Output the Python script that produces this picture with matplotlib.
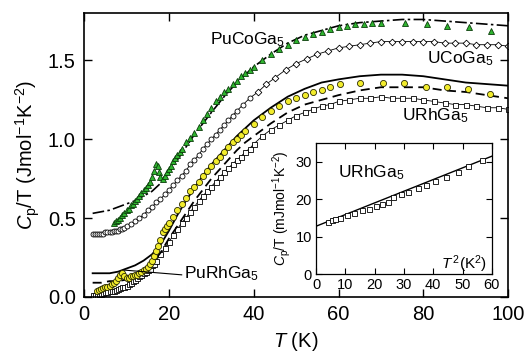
import matplotlib
matplotlib.use("Agg")
import matplotlib.pyplot as plt
import numpy as np

plt.rcParams["font.family"] = ["Liberation Sans", "DejaVu Sans"]
plt.rcParams["mathtext.fontset"] = "custom"
plt.rcParams["mathtext.rm"] = "Liberation Sans"
plt.rcParams["mathtext.it"] = "Liberation Sans:italic"

# PuCoGa5 (green triangles)
pucoga_t = [7, 7.5, 8, 8.5, 9, 9.5, 10, 10.5, 11, 11.5, 12, 12.5, 13, 13.5, 14, 14.5,
            15, 15.5, 16, 16.5, 17, 17.3, 17.6, 18, 18.5, 19, 19.5, 20, 20.5, 21, 21.5,
            22, 22.5, 23, 24, 25, 26, 27, 28, 29, 30, 31, 32, 33, 34, 35, 36, 37, 38, 39,
            40, 42, 44, 46, 48, 50, 52, 54, 56, 58, 60, 62, 64, 66, 68, 70,
            75.7, 80.9, 85.6, 90.8, 96]
pucoga_c = [0.47, 0.48, 0.49, 0.50, 0.52, 0.53, 0.55, 0.56, 0.58, 0.59, 0.61, 0.62, 0.64,
            0.66, 0.68, 0.69, 0.71, 0.73, 0.76, 0.80, 0.84, 0.83, 0.79, 0.76, 0.75, 0.77,
            0.79, 0.81, 0.83, 0.86, 0.88, 0.90, 0.92, 0.94, 0.98, 1.01, 1.04, 1.08, 1.12,
            1.16, 1.20, 1.24, 1.27, 1.30, 1.32, 1.35, 1.37, 1.40, 1.42, 1.44, 1.46, 1.50,
            1.54, 1.57, 1.60, 1.63, 1.65, 1.67, 1.68, 1.70, 1.71, 1.72, 1.73, 1.73, 1.74,
            1.74, 1.74, 1.73, 1.72, 1.71, 1.69]

# dash-dot curve
dashdot_t = [2, 4, 6, 8, 10, 12, 14, 16, 18, 20, 22, 24, 26, 28, 30, 33, 36, 40, 44, 48,
             52, 56, 60, 65, 70, 75, 80, 85, 90, 95, 100]
dashdot_c = [0.53, 0.54, 0.55, 0.57, 0.59, 0.61, 0.64, 0.67, 0.72, 0.79, 0.87, 0.95, 1.03,
             1.10, 1.17, 1.27, 1.36, 1.46, 1.54, 1.61, 1.66, 1.69, 1.72, 1.74, 1.75, 1.76,
             1.76, 1.75, 1.74, 1.73, 1.72]

# UCoGa5 (open circles / diamonds)
ucoga_t = [2, 2.5, 3, 3.5, 4, 4.5, 5, 5.5, 6, 6.5, 7, 7.5, 8, 8.5, 9, 9.5, 10, 11, 12, 13,
           14, 15, 16, 17, 18, 19, 20, 21, 22, 23, 24, 25, 26, 27, 28, 29, 30, 31, 32, 33,
           34, 35, 36, 37.5, 39, 41, 43, 45, 47.5, 50, 52.5, 55, 57.5, 60, 62.5, 65, 67.5,
           70, 72.5, 75, 77.5, 80, 82.5, 85, 87.5, 90, 92.5, 95, 97.5, 100]
ucoga_c = [0.40, 0.40, 0.40, 0.40, 0.40, 0.40, 0.41, 0.41, 0.41, 0.41, 0.42, 0.42, 0.42,
           0.43, 0.43, 0.44, 0.45, 0.46, 0.48, 0.50, 0.52, 0.55, 0.57, 0.60, 0.62, 0.65,
           0.68, 0.71, 0.74, 0.77, 0.80, 0.84, 0.87, 0.90, 0.94, 0.97, 1.00, 1.03, 1.06,
           1.09, 1.12, 1.15, 1.18, 1.22, 1.26, 1.30, 1.35, 1.39, 1.44, 1.48, 1.51, 1.54,
           1.56, 1.58, 1.59, 1.60, 1.61, 1.62, 1.62, 1.62, 1.62, 1.62, 1.62, 1.61, 1.61,
           1.61, 1.60, 1.60, 1.60, 1.59]

# solid curve
solid_t = [2, 4, 6, 8, 10, 12, 14, 16, 18, 20, 22, 24, 26, 28, 30, 32, 34, 36, 38, 40, 44,
           48, 52, 56, 60, 65, 70, 75, 80, 85, 90, 95, 100]
solid_c = [0.15, 0.15, 0.15, 0.16, 0.18, 0.20, 0.23, 0.27, 0.33, 0.42, 0.52, 0.61, 0.69,
           0.77, 0.84, 0.90, 0.96, 1.02, 1.07, 1.12, 1.20, 1.27, 1.32, 1.36, 1.38, 1.40,
           1.41, 1.41, 1.40, 1.38, 1.36, 1.35, 1.34]

# PuRhGa5 (yellow circles)
purhga_t = [3, 3.5, 4, 4.5, 5, 5.5, 6, 6.5, 7, 7.5, 8, 8.5, 9, 9.5, 10, 10.5, 11, 11.5, 12,
            12.5, 13, 13.5, 14, 14.5, 15, 15.5, 16, 16.5, 17, 17.5, 18, 18.5, 19, 19.5, 20,
            21, 22, 23, 24, 25, 26, 27, 28, 29, 30, 31, 32, 33, 34, 35, 36, 37, 38, 40, 42,
            44, 46, 48, 50, 52, 54, 56, 58, 60.4, 65, 70.5, 75.5, 80.7, 85.6, 90.6, 95.8]
purhga_c = [0.04, 0.045, 0.05, 0.055, 0.06, 0.065, 0.07, 0.08, 0.09, 0.10, 0.12, 0.14,
            0.15, 0.13, 0.12, 0.12, 0.13, 0.13, 0.14, 0.14, 0.15, 0.16, 0.17, 0.18, 0.19,
            0.21, 0.23, 0.26, 0.29, 0.32, 0.36, 0.41, 0.43, 0.45, 0.47, 0.51, 0.55, 0.59,
            0.63, 0.67, 0.70, 0.73, 0.77, 0.80, 0.83, 0.86, 0.89, 0.92, 0.95, 0.98, 1.00,
            1.03, 1.05, 1.10, 1.14, 1.18, 1.21, 1.24, 1.26, 1.28, 1.30, 1.31, 1.33, 1.35,
            1.36, 1.36, 1.36, 1.33, 1.33, 1.32, 1.29]

# dashed curve
dashed_t = [2, 4, 6, 8, 10, 12, 14, 16, 18, 20, 22, 24, 26, 28, 30, 32, 34, 36, 38, 40, 44,
            48, 52, 56, 60, 65, 70, 75, 80, 85, 90, 95, 100]
dashed_c = [0.09, 0.09, 0.10, 0.10, 0.11, 0.13, 0.16, 0.21, 0.28, 0.37, 0.45, 0.53, 0.61,
            0.68, 0.75, 0.81, 0.87, 0.93, 0.98, 1.02, 1.10, 1.17, 1.22, 1.25, 1.28, 1.31,
            1.33, 1.33, 1.33, 1.31, 1.30, 1.28, 1.26]

# URhGa5 (open squares)
urhga_t = [2, 2.5, 3, 3.5, 4, 4.5, 5, 5.5, 6, 6.5, 7, 7.5, 8, 8.5, 9, 9.5, 10, 10.5, 11,
           11.5, 12, 12.5, 13, 13.5, 14, 14.5, 15, 15.5, 16, 16.5, 17, 18, 19, 20, 21, 22,
           23, 24, 25, 26, 27, 28, 29, 30, 31, 32, 33, 34, 35, 36, 37, 38, 39, 40, 42, 44,
           46, 48, 50, 52, 54, 56, 58, 60, 62.5, 65, 67.5, 70, 72.5, 75, 77.5, 80, 82.5,
           85, 87.5, 90, 92.5, 95, 97.5, 100]
urhga_c = [0.01, 0.01, 0.015, 0.02, 0.02, 0.025, 0.03, 0.03, 0.035, 0.04, 0.04, 0.045,
           0.05, 0.055, 0.06, 0.065, 0.07, 0.08, 0.09, 0.10, 0.11, 0.12, 0.13, 0.14, 0.15,
           0.16, 0.17, 0.18, 0.20, 0.21, 0.23, 0.27, 0.31, 0.35, 0.39, 0.43, 0.47, 0.50,
           0.54, 0.57, 0.61, 0.64, 0.67, 0.70, 0.73, 0.76, 0.79, 0.82, 0.84, 0.87, 0.89,
           0.92, 0.94, 0.97, 1.02, 1.06, 1.09, 1.12, 1.15, 1.17, 1.19, 1.21, 1.22, 1.24,
           1.25, 1.26, 1.26, 1.27, 1.26, 1.26, 1.26, 1.25, 1.24, 1.23, 1.22, 1.22, 1.21,
           1.20, 1.20, 1.19]

# inset: URhGa5 Cp/T vs T^2
inset_t2 = [4.2, 5.4, 6.6, 8.3, 10.6, 12.9, 15.8, 18.0, 20.3, 22.6, 24.6, 26.4, 29.0, 31.5,
            34.7, 37.6, 40.5, 44.5, 48.3, 52.0, 56.6]
inset_c = [13.8, 14.4, 14.8, 15.1, 15.7, 16.2, 17.1, 17.5, 18.1, 18.8, 19.3, 20.6, 21.5,
           21.9, 23.0, 23.7, 24.9, 25.9, 27.3, 28.8, 30.4]
inset_fit_t2 = [0, 60]
inset_fit_c = [12.8, 31.5]

fig = plt.figure(figsize=(5.26, 3.56), dpi=100)
ax = fig.add_axes([0.160, 0.166, 0.806, 0.797])

ax.plot(urhga_t, urhga_c, color="black", lw=0.6, marker="s", ms=3.6, mfc="white",
        mec="black", mew=0.6)
u_t = np.array(ucoga_t)
u_c = np.array(ucoga_c)
ax.plot(u_t, u_c, color="black", lw=0.6)
low = u_t < 40
ax.plot(u_t[low], u_c[low], ls="none", marker="o", ms=3.6, mfc="white", mec="black", mew=0.6)
ax.plot(u_t[~low], u_c[~low], ls="none", marker="D", ms=3.4, mfc="white", mec="black", mew=0.6)
ax.plot(dashed_t, dashed_c, color="black", lw=1.3, ls=(0, (5, 3)))
ax.plot(solid_t, solid_c, color="black", lw=1.3)
ax.plot(dashdot_t, dashdot_c, color="black", lw=1.2, ls=(0, (7, 2, 1.5, 2)))
ax.plot(pucoga_t, pucoga_c, ls="none", marker="^", ms=4.6, mfc="#2fb52f", mec="#0b3d0b",
        mew=0.6)
ax.plot(purhga_t, purhga_c, ls="none", marker="o", ms=4.4, mfc="#f2ec2c", mec="#2a2a00",
        mew=0.6)

# leader line for PuRhGa5 label
ax.plot([9.5, 23.0], [0.17, 0.14], color="black", lw=0.8)

ax.text(29.7, 1.63, "PuCoGa$_5$", fontsize=12.5, va="center", ha="left")
ax.text(96.5, 1.51, "UCoGa$_5$", fontsize=12.5, va="center", ha="right")
ax.text(75.0, 1.15, "URhGa$_5$", fontsize=12.5, va="center", ha="left")
ax.text(23.6, 0.145, "PuRhGa$_5$", fontsize=12.5, va="center", ha="left")

ax.set_xlim(0, 100)
ax.set_ylim(0, 1.8)
ax.set_xticks([0, 20, 40, 60, 80, 100])
ax.set_yticks([0, 0.5, 1.0, 1.5])
ax.set_yticklabels(["0.0", "0.5", "1.0", "1.5"])
ax.tick_params(direction="in", top=True, right=True, length=6, width=1, labelsize=14.5,
               pad=6)
for s in ax.spines.values():
    s.set_linewidth(1.2)
ax.set_xlabel("$T$ (K)", fontsize=14.5, labelpad=4)
ax.set_ylabel("$C_\\mathrm{p}$/T (Jmol$^{-1}$K$^{-2}$)", fontsize=14.5, labelpad=4)

# inset
ins = fig.add_axes([0.601, 0.230, 0.334, 0.368])
ins.plot(inset_fit_t2, inset_fit_c, color="black", lw=1.0)
ins.plot(inset_t2, inset_c, ls="none", marker="s", ms=3.6, mfc="white", mec="black",
         mew=0.6)
ins.set_xlim(0, 60)
ins.set_ylim(0, 35)
ins.set_xticks([0, 10, 20, 30, 40, 50, 60])
ins.set_yticks([0, 10, 20, 30])
ins.tick_params(direction="in", top=True, right=True, length=4, width=0.8, labelsize=10.5,
                pad=3)
for s in ins.spines.values():
    s.set_linewidth(0.9)
ins.text(7.6, 27.2, "URhGa$_5$", fontsize=12.5, va="center", ha="left")
ins.text(58.5, 2.6, "$T^{\\,2}$(K$^2$)", fontsize=11, va="center", ha="right")
ins.set_ylabel("$C_\\mathrm{p}$/T (mJmol$^{-1}$K$^{-2}$)", fontsize=10, labelpad=2)

fig.savefig("out.png", dpi=100)
